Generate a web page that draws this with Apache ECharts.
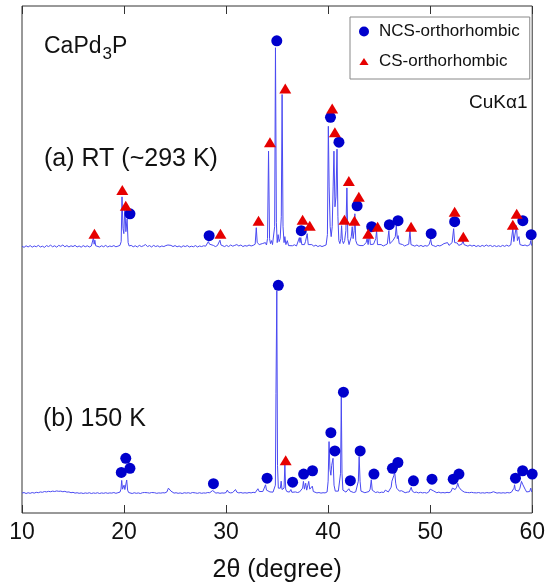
<!DOCTYPE html>
<html>
<head>
<meta charset="utf-8">
<title>CaPd3P XRD</title>
<script src="https://cdn.jsdelivr.net/npm/echarts@6/dist/echarts.min.js"></script>
<style>
  html, body { margin: 0; padding: 0; background: #fff; }
  #chart { width: 548px; height: 588px; }
</style>
</head>
<body>
<div id="chart"></div>
<script>
// Powder XRD patterns of CaPd3P (Cu Kα1), intensities in arbitrary units.
// Room-temperature pattern: [2θ (deg), intensity]
const patternRT = [
  [10.0,10.2],[10.2,9.6],[10.4,10.4],[10.6,9.8],[10.8,10.5],[11.0,9.7],[11.2,10.3],[11.4,9.9],[11.6,10.6],[11.8,9.8],
  [12.0,10.2],[12.2,9.6],[12.4,10.5],[12.6,10.0],[12.8,10.7],[13.0,9.9],[13.2,10.4],[13.4,9.7],[13.6,10.6],[13.8,10.1],
  [14.0,10.8],[14.2,9.9],[14.4,10.5],[14.6,9.8],[14.8,10.4],[15.0,10.0],[15.2,10.6],[15.4,9.8],[15.6,10.3],[15.8,9.7],
  [16.0,10.5],[16.2,9.9],[16.4,10.4],[16.6,9.8],[16.8,10.3],
  [16.93,10.2],[17.0,14.5],[17.07,11.2],[17.14,13.2],[17.22,10.4],
  [17.4,10.5],[17.6,9.8],[17.8,10.4],[18.0,9.9],[18.2,10.6],[18.4,9.8],[18.6,10.3],[18.8,10.0],[19.0,10.5],[19.2,9.9],[19.4,10.2],[19.6,10.6],
  [19.72,12.5],[19.8,35.0],[19.9,19.0],[19.98,16.5],[20.08,30.0],[20.18,17.5],[20.3,24.0],[20.4,12.0],[20.5,10.3],
  [20.7,10.6],[20.9,9.9],[21.1,10.4],[21.3,9.8],[21.5,10.6],[21.7,10.0],[21.9,10.4],[22.1,11.0],[22.3,10.0],[22.5,10.5],
  [22.7,9.8],[22.9,10.6],[23.1,10.0],[23.3,10.4],[23.5,9.8],[23.7,10.3],[23.9,10.0],[24.1,10.5],[24.3,10.8],[24.45,11.8],
  [24.6,10.6],[24.8,10.0],[25.0,10.5],[25.2,9.9],[25.4,10.3],[25.6,9.7],[25.8,10.4],[26.0,10.0],[26.2,10.5],[26.4,9.8],
  [26.6,10.2],[26.8,9.9],[27.0,10.5],[27.2,9.8],[27.4,10.3],[27.6,10.0],[27.8,10.4],[28.0,10.2],
  [28.15,11.0],[28.26,12.5],[28.38,11.2],[28.55,10.2],[28.75,10.6],[28.95,10.0],[29.15,10.5],[29.3,11.0],[29.4,13.2],[29.5,10.8],
  [29.65,10.3],[29.85,10.0],[30.05,10.6],[30.25,10.0],[30.45,10.8],[30.65,10.2],[30.85,10.6],[31.05,11.0],[31.25,10.3],[31.45,10.8],
  [31.65,10.0],[31.85,10.5],[32.05,10.2],[32.25,10.8],[32.45,10.3],[32.65,10.6],[32.85,11.2],
  [32.96,19.5],[33.05,12.0],[33.15,13.0],[33.25,11.0],[33.4,10.6],[33.55,11.5],[33.7,10.5],[33.85,12.0],[33.96,10.8],
  [34.06,14.0],[34.16,58.0],[34.26,14.0],[34.35,11.5],[34.45,13.0],[34.55,11.0],[34.65,12.0],[34.76,20.0],[34.84,110.0],[34.93,22.0],
  [35.01,12.0],[35.1,16.0],[35.2,12.5],[35.3,14.0],[35.41,25.0],[35.49,86.5],[35.58,20.0],[35.68,12.0],[35.76,15.0],[35.86,11.0],
  [36.0,13.0],[36.12,10.5],[36.3,11.2],[36.5,10.4],[36.7,10.9],[36.9,10.3],[37.08,11.0],
  [37.18,14.5],[37.25,12.0],[37.32,14.5],[37.42,11.0],[37.55,10.5],[37.68,11.0],[37.78,12.5],[37.87,11.5],[37.95,16.5],[38.05,11.0],
  [38.2,10.5],[38.4,11.0],[38.6,10.2],[38.8,10.7],[39.0,10.0],[39.2,10.5],[39.4,10.0],[39.6,10.4],[39.8,10.8],
  [39.93,16.0],[40.02,70.5],[40.1,40.0],[40.2,20.0],[40.3,15.0],[40.4,20.0],[40.49,40.0],[40.57,58.0],[40.67,30.0],[40.77,35.0],
  [40.87,59.0],[40.96,25.0],[41.05,13.0],[41.15,11.5],[41.25,14.0],[41.32,20.5],[41.4,13.0],[41.5,11.5],[41.62,13.0],[41.74,18.0],
  [41.84,39.5],[41.93,14.0],[42.05,11.0],[42.15,12.0],[42.27,15.0],[42.36,20.0],[42.45,14.0],[42.55,18.0],[42.62,26.5],[42.71,13.0],
  [42.85,11.0],[43.0,12.0],[43.12,10.5],[43.25,11.0],[43.45,10.5],[43.6,11.0],[43.72,12.0],[43.82,14.0],[43.92,11.0],[43.98,12.0],
  [44.05,16.5],[44.14,11.0],[44.3,10.6],[44.45,11.2],[44.58,12.0],[44.67,14.0],[44.75,18.0],[44.84,11.0],[45.0,10.5],[45.2,11.0],
  [45.4,10.3],[45.6,10.8],[45.8,11.3],[45.95,18.0],[46.05,11.5],[46.2,12.0],[46.35,13.0],[46.48,12.0],[46.58,15.0],[46.68,20.5],
  [46.78,14.0],[46.86,15.5],[46.96,11.5],[47.1,10.5],[47.3,11.0],[47.5,10.3],[47.7,10.8],[47.9,11.2],[48.02,18.0],[48.12,11.0],
  [48.3,10.5],[48.5,10.2],[48.7,10.8],[48.9,10.1],[49.1,10.6],[49.3,10.0],[49.5,10.5],[49.7,10.2],[49.9,11.0],[50.05,13.7],
  [50.15,10.8],[50.35,10.4],[50.55,10.0],[50.75,10.6],[50.95,10.3],[51.15,10.8],[51.35,11.5],[51.5,10.5],[51.7,12.0],[51.85,10.6],
  [52.0,10.8],[52.15,12.0],[52.3,19.0],[52.4,12.0],[52.52,11.0],[52.65,11.8],[52.8,10.6],[52.95,10.9],[53.1,11.2],[53.22,13.0],
  [53.32,11.0],[53.5,10.6],[53.7,10.2],[53.9,10.8],[54.1,10.2],[54.3,10.7],[54.5,10.0],[54.7,10.5],[54.9,10.0],[55.1,10.6],
  [55.3,10.1],[55.5,10.8],[55.7,10.2],[55.9,10.6],[56.1,10.0],[56.3,10.5],[56.5,10.0],[56.7,10.4],[56.9,10.0],[57.1,10.6],
  [57.3,10.1],[57.5,10.7],[57.7,10.2],[57.9,10.8],[58.02,11.5],[58.1,19.0],[58.2,12.5],[58.32,13.0],[58.45,20.5],[58.55,13.0],
  [58.7,15.0],[58.8,11.0],[58.95,10.8],[59.1,10.5],[59.3,10.8],[59.5,10.3],[59.68,10.5],[59.78,11.0],[59.86,13.0],[59.94,10.5],[60.0,10.4]
];

// 150 K pattern: [2θ (deg), intensity]
const pattern150K = [
  [10.0,10.0],[10.2,10.3],[10.4,9.8],[10.6,10.2],[10.8,9.9],[11.0,10.3],[11.2,10.0],[11.4,10.4],[11.6,10.2],[11.8,10.6],
  [12.0,10.4],[12.2,10.8],[12.4,10.6],[12.6,10.9],[12.8,10.7],[13.0,11.0],[13.2,10.8],[13.4,11.1],[13.6,10.9],[13.8,11.0],
  [14.0,10.7],[14.2,10.9],[14.4,10.5],[14.6,10.6],[14.8,10.2],[15.0,10.4],[15.2,10.0],[15.4,10.2],[15.6,9.9],[15.8,10.1],
  [16.0,9.8],[16.2,10.1],[16.4,9.9],[16.6,10.2],[16.8,9.8],[17.0,10.1],[17.2,9.9],[17.4,10.2],[17.6,9.8],[17.8,10.1],
  [18.0,9.9],[18.2,10.2],[18.4,9.9],[18.6,10.1],[18.8,10.0],[19.0,10.3],[19.2,9.9],[19.4,10.2],[19.6,10.5],
  [19.7,12.0],[19.77,16.4],[19.85,12.0],[19.93,11.6],[20.0,14.0],[20.08,11.8],[20.18,12.5],[20.26,16.6],[20.35,11.5],[20.45,10.3],
  [20.6,10.1],[20.8,9.8],[21.0,10.2],[21.2,9.9],[21.4,10.1],[21.6,9.8],[21.8,10.2],[22.0,10.3],[22.15,11.2],[22.3,10.2],
  [22.5,10.0],[22.7,10.3],[22.85,11.0],[23.0,10.2],[23.2,9.9],[23.4,10.1],[23.6,10.0],[23.8,10.2],[24.0,10.1],[24.2,10.6],
  [24.35,12.5],[24.45,13.0],[24.6,11.0],[24.75,10.2],[24.9,10.0],[25.1,10.2],[25.3,9.9],[25.5,10.1],[25.7,9.8],[25.9,10.2],
  [26.1,10.0],[26.3,10.2],[26.5,9.9],[26.7,10.3],[26.85,10.8],[27.0,10.1],[27.2,9.9],[27.4,10.2],[27.6,9.9],[27.8,10.1],
  [28.0,10.0],[28.2,10.3],[28.4,10.2],[28.55,10.6],[28.68,11.3],[28.8,10.4],[29.0,10.0],[29.2,10.2],[29.4,9.9],[29.6,10.1],
  [29.8,10.0],[30.0,10.3],[30.12,11.5],[30.25,10.4],[30.45,10.1],[30.65,10.3],[30.8,10.0],[30.92,11.8],[31.05,10.5],[31.25,10.1],
  [31.45,10.3],[31.65,10.0],[31.85,10.2],[32.05,10.0],[32.25,10.3],[32.45,10.1],[32.65,10.4],[32.85,10.2],[33.0,10.6],[33.12,12.2],
  [33.25,10.8],[33.4,10.4],[33.6,10.8],[33.75,11.5],[33.87,14.2],[33.96,11.5],[34.05,12.5],[34.15,11.0],[34.3,10.6],[34.45,10.8],
  [34.6,10.5],[34.74,11.5],[34.83,14.0],[34.89,60.0],[34.97,111.7],[35.04,24.0],[35.12,12.5],[35.22,11.5],[35.32,12.5],[35.4,16.0],
  [35.48,11.8],[35.6,11.0],[35.68,12.5],[35.76,24.2],[35.84,12.0],[35.95,10.8],[36.08,11.5],[36.2,10.5],[36.35,11.8],[36.45,10.4],
  [36.6,10.2],[36.8,10.6],[37.0,10.3],[37.2,10.6],[37.38,11.2],[37.5,12.5],[37.58,15.9],[37.68,12.0],[37.8,15.0],[37.9,11.5],
  [38.0,12.0],[38.1,15.9],[38.2,12.0],[38.32,11.0],[38.45,13.5],[38.55,10.8],[38.7,10.4],[38.9,10.1],[39.1,10.3],[39.3,10.0],
  [39.5,10.2],[39.7,10.1],[39.9,10.6],[40.0,16.0],[40.09,35.9],[40.18,22.0],[40.27,19.0],[40.35,24.0],[40.48,27.5],[40.58,14.0],
  [40.7,11.0],[40.85,10.6],[41.0,11.0],[41.12,12.0],[41.22,20.0],[41.29,58.4],[41.36,20.0],[41.45,11.5],[41.6,10.8],[41.75,10.5],
  [41.92,11.2],[42.03,12.2],[42.15,11.0],[42.3,10.6],[42.5,10.3],[42.7,10.6],[42.85,11.0],[42.96,16.0],[43.04,28.4],[43.13,16.0],
  [43.22,11.0],[43.4,10.5],[43.6,10.2],[43.8,10.5],[44.0,10.8],[44.12,12.0],[44.23,16.7],[44.32,11.5],[44.45,10.6],[44.65,10.3],
  [44.85,10.6],[45.05,10.2],[45.25,10.5],[45.45,10.3],[45.6,11.5],[45.72,10.5],[45.9,10.6],[46.05,11.0],[46.18,13.0],[46.25,16.0],
  [46.35,15.0],[46.45,19.0],[46.52,20.9],[46.62,15.0],[46.72,12.5],[46.88,13.4],[46.98,11.0],[47.1,10.6],[47.2,11.2],[47.35,10.4],
  [47.55,10.2],[47.75,10.5],[47.95,10.6],[48.05,11.5],[48.14,12.9],[48.25,11.0],[48.45,10.3],[48.65,10.5],[48.85,10.1],[49.05,10.4],
  [49.25,10.1],[49.45,10.3],[49.65,10.0],[49.85,10.5],[50.0,12.0],[50.12,11.0],[50.3,11.2],[50.45,10.4],[50.65,10.2],[50.85,10.5],
  [51.05,10.1],[51.25,10.3],[51.45,10.1],[51.65,10.4],[51.85,10.2],[52.05,10.8],[52.18,12.5],[52.3,11.5],[52.45,11.8],[52.6,13.0],
  [52.7,15.0],[52.82,13.0],[52.92,13.4],[53.05,11.5],[53.2,10.8],[53.35,10.5],[53.5,11.0],[53.65,10.3],[53.85,10.2],[54.05,10.4],
  [54.25,10.2],[54.4,10.7],[54.55,10.1],[54.75,10.3],[54.95,10.0],[55.15,10.2],[55.35,10.0],[55.55,10.3],[55.75,10.1],[55.95,10.2],
  [56.1,10.4],[56.2,10.7],[56.35,10.2],[56.55,10.0],[56.75,10.2],[56.95,10.0],[57.15,10.2],[57.35,10.0],[57.55,10.3],[57.75,10.1],
  [57.95,10.4],[58.12,10.8],[58.22,12.5],[58.27,14.2],[58.35,11.5],[58.5,10.8],[58.65,11.0],[58.8,12.5],[58.95,15.9],[59.06,14.5],
  [59.18,15.5],[59.3,12.0],[59.45,10.6],[59.6,10.3],[59.75,10.8],[59.86,12.5],[59.94,10.6],[60.0,10.5]
];

// Reflection markers: [2θ (deg), marker height]
const ncsRT = [[20.58,26.5],[28.34,15.5],[34.97,113.5],[37.37,18],[40.23,75],[41.06,62.5],[42.84,30.5],
  [44.27,20],[46.0,21],[46.85,23],[50.1,16.5],[52.4,22.5],[59.08,23],[59.9,16]];
const csRT = [[17.1,16.5],[19.83,38.5],[20.17,30.5],[29.45,16.5],[33.18,23],[34.3,62.5],[35.8,89.5],[37.5,23.5],
  [38.2,20.5],[40.4,79.5],[40.66,67.5],[41.6,23.5],[42.03,43],[42.58,23],[43.01,35],[43.93,16.5],[44.85,20],
  [48.13,20],[52.4,27.5],[53.25,15],[58.1,21],[58.48,26.5]];
const ncs150K = [[19.73,20.4],[20.17,27.5],[20.58,22.5],[28.76,14.75],[34.02,17.5],[35.12,114.5],[36.52,15.5],
  [37.6,19.6],[38.47,21.25],[40.27,40.4],[40.66,31.2],[41.5,60.75],[42.18,16.25],[43.14,31.2],[44.49,19.6],
  [46.3,22.5],[46.84,25.4],[48.36,16.2],[50.18,17],[52.26,17],[52.82,19.6],[58.36,17.5],[59.06,21.25],[60.0,19.6]];
const cs150K = [[35.84,26.5]];

const xTicks = [10, 20, 30, 40, 50, 60];
const rtOffset = 124;   // vertical shift of the room-temperature trace

const FONT = "'Liberation Sans', Arial, Helvetica, sans-serif";
const shift = (arr, d) => arr.map(p => [p[0], p[1] + d]);

const chart = echarts.init(document.getElementById('chart'), null, { renderer: 'canvas' });

const tickStyle = { show: true, inside: true, length: 8, lineStyle: { color: '#333', width: 1 } };

chart.setOption({
  animation: false,
  backgroundColor: '#fff',
  grid: { left: 22, right: 9, top: 6, bottom: 72, show: true, borderColor: '#333', borderWidth: 1, backgroundColor: 'transparent' },
  xAxis: [
    {
      type: 'value', position: 'bottom', min: xTicks[0], max: xTicks[xTicks.length - 1], interval: 10,
      axisLine: { show: false }, axisTick: tickStyle, splitLine: { show: false },
      axisLabel: { fontFamily: FONT, fontSize: 23, color: '#111', margin: 8 },
      name: '2θ (degree)', nameLocation: 'middle', nameGap: 45,
      nameTextStyle: { fontFamily: FONT, fontSize: 25, color: '#111' }
    },
    {
      type: 'value', position: 'top', min: xTicks[0], max: xTicks[xTicks.length - 1], interval: 10,
      axisLine: { show: false }, axisTick: tickStyle, splitLine: { show: false }, axisLabel: { show: false }
    }
  ],
  yAxis: { type: 'value', min: 0, max: 255, show: false },
  legend: {
    orient: 'vertical', left: 350, top: 17, padding: [6, 10, 9, 8], itemGap: 13,
    itemWidth: 20, itemHeight: 10, backgroundColor: '#fff', borderColor: '#888', borderWidth: 1,
    textStyle: { fontFamily: FONT, fontSize: 17, color: '#111' },
    data: [
      { name: 'NCS-orthorhombic', icon: 'circle' },
      { name: 'CS-orthorhombic', icon: 'path://M-6,-5M6,5M0,-3.6L4.6,3.6L-4.6,3.6Z' }
    ]
  },
  series: [
    {
      type: 'line', name: 'RT', data: shift(patternRT, rtOffset), showSymbol: false, symbol: 'none',
      lineStyle: { color: '#4a4af2', width: 1 }, z: 2, silent: true
    },
    {
      type: 'line', name: '150 K', data: pattern150K, showSymbol: false, symbol: 'none',
      lineStyle: { color: '#4a4af2', width: 1 }, z: 2, silent: true
    },
    {
      type: 'scatter', name: 'NCS-orthorhombic', symbol: 'circle', symbolSize: 11, clip: false,
      itemStyle: { color: '#0000cc', opacity: 1 }, z: 4,
      data: shift(ncsRT, rtOffset).concat(ncs150K)
    },
    {
      type: 'scatter', name: 'CS-orthorhombic', symbol: 'triangle', symbolSize: [12, 10], clip: false,
      itemStyle: { color: '#e60000', opacity: 1 }, z: 4,
      data: shift(csRT, rtOffset).concat(cs150K)
    }
  ],
  graphic: [
    {
      type: 'text', x: 44, y: 35, z: 10,
      style: {
        text: '{m|CaPd}{s|3}{m|P}', fill: '#111',
        rich: {
          m: { fontFamily: FONT, fontSize: 23, lineHeight: 23, verticalAlign: 'top' },
          s: { fontFamily: FONT, fontSize: 17, lineHeight: 17, verticalAlign: 'top', padding: [11, 0, 0, 1] }
        }
      }
    },
    { type: 'text', x: 44, y: 147, z: 10, style: { text: '(a) RT (~293 K)', fill: '#111', font: '25px ' + FONT } },
    { type: 'text', x: 43, y: 407, z: 10, style: { text: '(b) 150 K', fill: '#111', font: '25px ' + FONT } },
    { type: 'text', x: 469, y: 93, z: 10, style: { text: 'CuKα1', fill: '#111', font: '19px ' + FONT } }
  ]
});
</script>
</body>
</html>
